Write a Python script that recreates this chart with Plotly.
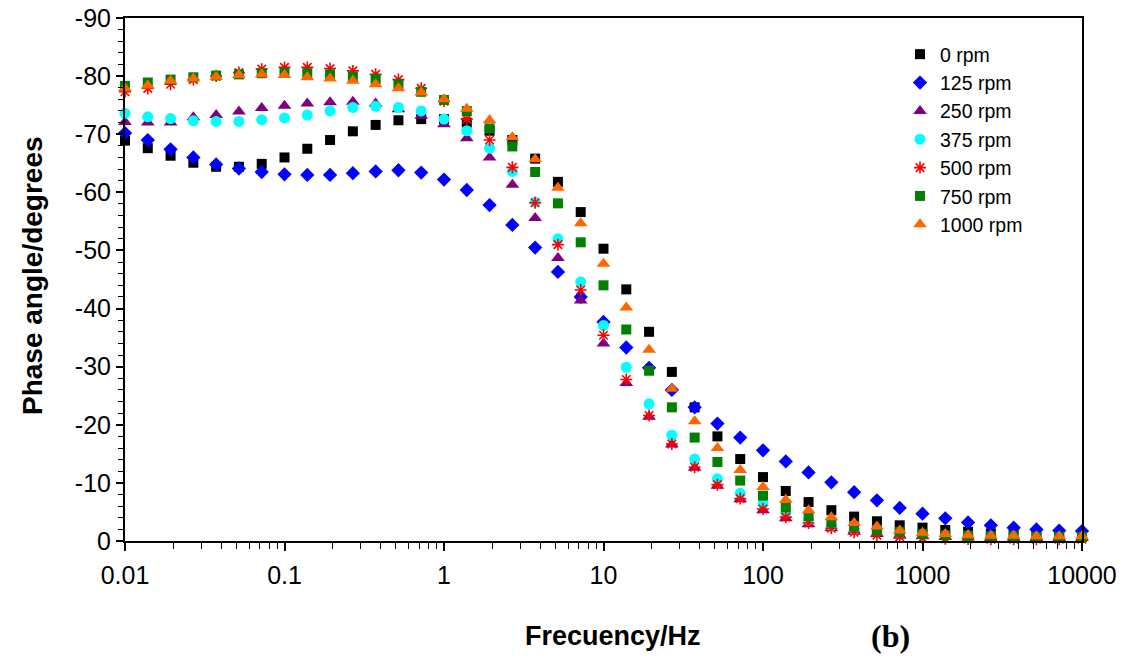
import plotly.graph_objects as go

freq_hz = [0.01, 0.013895, 0.019307, 0.026827, 0.037276, 0.051795, 0.071969,
           0.1, 0.13895, 0.19307, 0.26827, 0.37276, 0.51795, 0.71969,
           1, 1.3895, 1.9307, 2.6827, 3.7276, 5.1795, 7.1969,
           10, 13.895, 19.307, 26.827, 37.276, 51.795, 71.969,
           100, 138.95, 193.07, 268.27, 372.76, 517.95, 719.69,
           1000, 1389.5, 1930.7, 2682.7, 3727.6, 5179.5, 7196.9, 10000]

phase_0rpm = [-68.9, -67.6, -66.3, -65.1, -64.4, -64.4, -64.9, -66.0, -67.5, -69.0, -70.5, -71.6, -72.4, -72.6,
              -72.6, -72.0, -70.6, -69.0, -65.8, -61.8, -56.6, -50.3, -43.3, -36.0, -29.1, -23.0, -18.0, -14.1,
              -11.0, -8.6, -6.7, -5.3, -4.2, -3.4, -2.7, -2.3, -1.9, -1.6, -1.3, -1.1, -1.0, -0.9, -0.9]
phase_125rpm = [-70.2, -69.0, -67.4, -66.0, -64.8, -64.1, -63.5, -63.1, -63.0, -63.0, -63.3, -63.6, -63.8, -63.4,
                -62.2, -60.4, -57.8, -54.4, -50.5, -46.3, -42.0, -37.7, -33.3, -29.8, -26.0, -23.0, -20.2, -17.8,
                -15.6, -13.7, -11.8, -10.1, -8.4, -7.0, -5.7, -4.7, -3.9, -3.2, -2.7, -2.3, -2.0, -1.8, -1.7]
phase_250rpm = [-72.1, -72.0, -72.0, -72.9, -73.3, -73.9, -74.5, -74.9, -75.3, -75.5, -75.6, -75.3, -74.3, -73.2,
                -71.7, -69.3, -66.0, -61.3, -55.6, -48.7, -41.4, -34.0, -27.2, -21.4, -16.6, -12.6, -9.5, -7.2,
                -5.3, -3.9, -2.9, -2.2, -1.6, -1.2, -0.9, -0.8, -0.7, -0.6, -0.5, -0.5, -0.5, -0.5, -0.5]
phase_375rpm = [-73.6, -73.0, -72.7, -72.3, -72.2, -72.2, -72.5, -72.8, -73.3, -74.0, -74.6, -74.8, -74.6, -74.0,
                -72.6, -70.6, -67.6, -63.6, -58.3, -52.0, -44.6, -37.1, -29.9, -23.6, -18.2, -14.1, -10.7, -8.2,
                -6.4, -4.8, -3.6, -2.6, -2.0, -1.6, -1.3, -1.1, -1.0, -0.9, -0.8, -0.8, -0.7, -0.7, -0.7]
phase_500rpm = [-77.3, -77.9, -78.6, -79.4, -80.0, -80.6, -81.2, -81.5, -81.5, -81.3, -80.9, -80.3, -79.4, -77.9,
                -75.7, -72.6, -69.0, -64.3, -58.2, -51.0, -43.2, -35.4, -27.8, -21.6, -16.7, -12.7, -9.7, -7.3,
                -5.5, -4.1, -3.1, -2.2, -1.5, -1.0, -0.7, -0.5, -0.4, -0.35, -0.3, -0.3, -0.3, -0.3, -0.3]
phase_750rpm = [-78.3, -78.9, -79.4, -79.8, -80.1, -80.3, -80.5, -80.6, -80.5, -80.3, -79.9, -79.5, -78.6, -77.3,
                -75.9, -74.0, -71.0, -67.9, -63.5, -58.1, -51.4, -44.0, -36.4, -29.3, -23.0, -17.8, -13.6, -10.4,
                -7.8, -5.8, -4.3, -3.2, -2.5, -1.9, -1.6, -1.2, -1.0, -0.9, -0.8, -0.8, -0.7, -0.7, -0.7]
phase_1000rpm = [-77.9, -78.4, -79.2, -79.6, -79.9, -80.2, -80.3, -80.2, -79.8, -79.6, -79.2, -78.6, -77.9, -77.2,
                 -76.0, -74.4, -72.4, -69.5, -65.7, -60.8, -54.7, -47.7, -40.2, -32.9, -26.2, -20.6, -16.0, -12.2,
                 -9.3, -7.1, -5.3, -4.1, -3.1, -2.5, -1.8, -1.4, -1.2, -1.0, -0.9, -0.9, -0.8, -0.8, -0.8]

series_names = ["0 rpm", "125 rpm", "250 rpm", "375 rpm", "500 rpm", "750 rpm", "1000 rpm"]
series_values = [phase_0rpm, phase_125rpm, phase_250rpm, phase_375rpm, phase_500rpm, phase_750rpm, phase_1000rpm]

x_tick_vals = [0.01, 0.1, 1, 10, 100, 1000, 10000]
x_tick_text = ["0.01", "0.1", "1", "10", "100", "1000", "10000"]
y_tick_vals = [0, -10, -20, -30, -40, -50, -60, -70, -80, -90]
y_tick_text = ["0", "-10", "-20", "-30", "-40", "-50", "-60", "-70", "-80", "-90"]

styles = [
    dict(symbol="square", color="#000000", size=10),
    dict(symbol="diamond", color="#0000FF", size=11),
    dict(symbol="triangle-up", color="#800080", size=12),
    dict(symbol="circle", color="#00FFFF", size=11),
    dict(symbol="asterisk-open", color="#FF0000", size=10, line=dict(color="#FF0000", width=1.6)),
    dict(symbol="square", color="#008000", size=10),
    dict(symbol="triangle-up", color="#FF6600", size=12),
]

FONT = "Liberation Sans, Arial, sans-serif"

# target plot area in window pixels
PL, PR, PT, PB = 125, 1082, 18, 541
W, H = 1126, 659

fig = go.Figure()
for name, vals, st in zip(series_names, series_values, styles):
    marker = dict(symbol=st["symbol"], color=st["color"], size=st["size"],
                  line=st.get("line", dict(width=0)))
    fig.add_trace(go.Scatter(x=freq_hz, y=vals, mode="markers", name=name,
                             legendgroup=name, marker=marker, cliponaxis=False))

pw, ph = PR - PL, PB - PT


def px_to_paper(x, y):
    return (x - PL) / pw, 1 - (y - PT) / ph


fig.update_layout(
    width=W, height=H,
    margin=dict(l=PL, r=W - PR, t=PT, b=H - PB, autoexpand=False),
    plot_bgcolor="white", paper_bgcolor="white",
    font=dict(family=FONT, color="black", size=20),
    showlegend=True,
    legend=dict(x=px_to_paper(900, 0)[0], y=px_to_paper(0, 35)[1], xanchor="left", yanchor="top",
                font=dict(family=FONT, size=19.5, color="black"),
                bgcolor="rgba(0,0,0,0)", traceorder="grouped", tracegroupgap=0,
                itemsizing="trace", itemwidth=30),
    xaxis=dict(type="log", range=[-2, 4], tickvals=x_tick_vals, ticktext=x_tick_text,
               automargin=False, ticklabeloverflow="allow", ticklabelstandoff=3,
               showgrid=False, zeroline=False, showline=True, linecolor="black", linewidth=2,
               mirror=True, ticks="outside", ticklen=8, tickwidth=1.5, tickcolor="black",
               tickfont=dict(family=FONT, size=25, color="black"),
               minor=dict(ticks="outside", ticklen=6, tickwidth=1, tickcolor="black",
                          dtick="D1", showgrid=False)),
    yaxis=dict(range=[0, -90], tickvals=y_tick_vals, ticktext=y_tick_text,
               automargin=False, ticklabeloverflow="allow",
               showgrid=False, zeroline=False, showline=True, linecolor="black", linewidth=2,
               mirror=True, ticks="outside", ticklen=7, tickwidth=1.5, tickcolor="black",
               tickfont=dict(family=FONT, size=25, color="black"),
               minor=dict(ticks="outside", ticklen=5, tickwidth=1, tickcolor="black",
                          dtick=2, showgrid=False)),
)

ann_specs = [
    ("<b>Frecuency/Hz</b>", 613, 636, 0, FONT, 27),
    ("<b>(b)</b>", 890, 636, 0, "Liberation Serif, Times New Roman, serif", 32),
    ("<b>Phase angle/degrees</b>", 32, 276, -90, FONT, 28),
]
for text, ax, ay, ang, fam, sz in ann_specs:
    xp, yp = px_to_paper(ax, ay)
    fig.add_annotation(text=text, x=xp, y=yp, xref="paper", yref="paper", textangle=ang,
                       showarrow=False, xanchor="center", yanchor="middle",
                       font=dict(family=fam, size=sz, color="black"))

fig.write_html("out.html", config={"displayModeBar": False},
               post_script="document.body.style.margin='0';")
